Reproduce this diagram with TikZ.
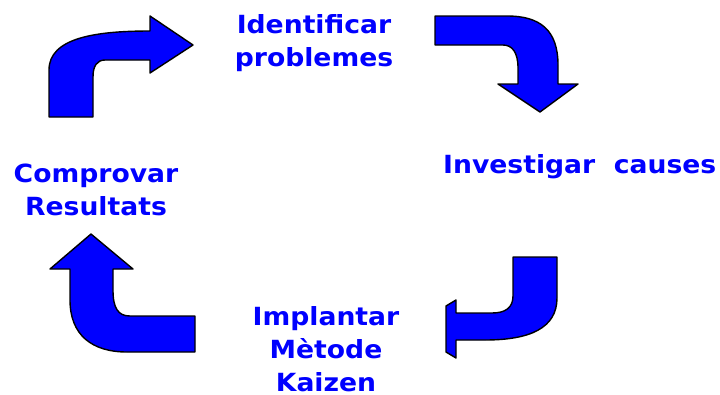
\documentclass[tikz,border=0pt]{standalone}
\usepackage{fontspec}
\setmainfont[FakeStretch=1.065]{DejaVu Sans}
\definecolor{pureblue}{RGB}{0,0,255}
\tikzset{
  bend arrow/.style={fill=pureblue, draw=black, line width=1.4pt, line join=round},
  step label/.style={text=pureblue, font=\bfseries\fontsize{25}{33}\selectfont, inner sep=0pt, align=center}
}
\begin{document}
\begin{tikzpicture}[x=1pt,y=-1pt]
\useasboundingbox (0,0) rectangle (720,394);
% bent arrows going round the cycle
\draw[bend arrow] (49,117) -- (49,70) .. controls (49,38) and (95,31) .. (150,31)
  -- (150,16) -- (193,45) -- (150,73) -- (150,60) -- (105,60)
  .. controls (97,60) and (93,66) .. (93,77) -- (93,117) -- cycle;
\draw[bend arrow] (435,16) -- (507,16) .. controls (540,16) and (558,30) .. (558,65)
  -- (558,84) -- (578,84) -- (540,112) -- (498,84) -- (518,84) -- (518,68)
  .. controls (518,52) and (512,45) .. (503,45) -- (435,45) -- cycle;
\draw[bend arrow] (513,257) -- (557,257) -- (557,298)
  .. controls (557,328) and (530,340) .. (485,340) -- (456,340) -- (456,358)
  -- (446,352) -- (446,306) -- (456,300) -- (456,313) -- (492,313)
  .. controls (505,313) and (513,308) .. (513,296) -- cycle;
\draw[bend arrow] (91,234) -- (133,269) -- (113,269) -- (113,290)
  .. controls (113,308) and (118,316) .. (130,316) -- (195,316) -- (195,352)
  -- (127,352) .. controls (92,352) and (70,335) .. (70,300) -- (70,269)
  -- (50,269) -- cycle;
% stage labels
\node[step label, anchor=north] (ident) at (314,14) {Identificar\\problemes};
\node[step label, anchor=base west] (invest) at (443,173) {Investigar~~causes};
\node[step label, anchor=north] (implant) at (326,306) {Implantar\\Mètode\\Kaizen};
\node[step label, anchor=north] (comprov) at (96,164) {Comprovar\\Resultats};
\end{tikzpicture}
\end{document}
